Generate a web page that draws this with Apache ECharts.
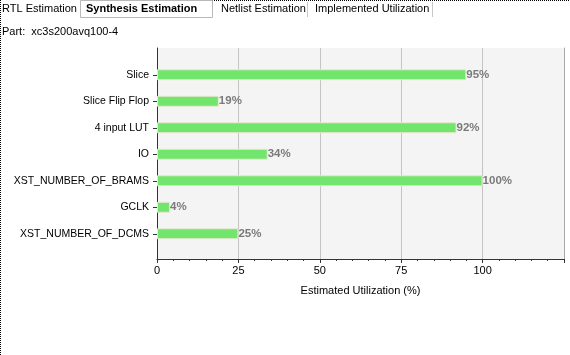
<!DOCTYPE html>
<html><head><meta charset="utf-8">
<script src="https://cdn.jsdelivr.net/npm/echarts@6/dist/echarts.min.js"></script>
<style>html,body{margin:0;padding:0;background:#fff}#c{width:570px;height:355px}</style>
</head><body><div id="c"></div>
<script>
const categories = ['Slice','Slice Flip Flop','4 input LUT','IO','XST_NUMBER_OF_BRAMS','GCLK','XST_NUMBER_OF_DCMS'];
const utilization = [95, 19, 92, 34, 100, 4, 25];
const xTicks = [0, 25, 50, 75, 100, 125];
const tabs = ['RTL Estimation','Synthesis Estimation','Netlist Estimation','Implemented Utilization'];
const partLabel = 'Part:  xc3s200avq100-4';
const axisTitle = 'Estimated Utilization (%)';

const FONT = 'Liberation Sans';
const FS = 11;
const chart = echarts.init(document.getElementById('c'), null, {renderer:'canvas'});
const tabX = [2, 86, 221, 315];
const graphics = [
  {type:'line', shape:{x1:0.5,y1:0,x2:0.5,y2:355}, style:{stroke:'#000',lineWidth:1,lineDash:[1,1]}},
  {type:'line', shape:{x1:212,y1:0.5,x2:570,y2:0.5}, style:{stroke:'#000',lineWidth:1,lineDash:[1,1]}},
  {type:'rect', shape:{x:80.5,y:0.5,width:132,height:17}, style:{fill:'#fff',stroke:'#b8b8b8',lineWidth:1}},
  {type:'line', shape:{x1:307.5,y1:2,x2:307.5,y2:17}, style:{stroke:'#c8c8c8',lineWidth:1}},
  {type:'line', shape:{x1:432.5,y1:2,x2:432.5,y2:17}, style:{stroke:'#c8c8c8',lineWidth:1}},
  {type:'text', x:2, y:32, style:{text:partLabel, fill:'#000', font:FS+'px "'+FONT+'"', textVerticalAlign:'middle'}}
];
tabs.forEach((t,i)=>{
  graphics.push({type:'text', x:tabX[i], y:9, style:{text:t, fill:'#000', font:(i===1?'bold ':'')+FS+'px "'+FONT+'"', textVerticalAlign:'middle'}});
});

chart.setOption({
  animation:false,
  graphic: graphics,
  grid:[
    {left:157, right:6, top:48, bottom:96, show:true, backgroundColor:'#f4f4f4', borderWidth:0, containLabel:false},
    {left:157, right:6, top:61.5, bottom:108, containLabel:false}
  ],
  xAxis:[
    {gridIndex:0, type:'value', min:xTicks[0], max:xTicks[xTicks.length-1], interval:25,
     name:axisTitle, nameLocation:'middle', nameGap:26,
     nameTextStyle:{fontFamily:FONT, fontSize:FS, color:'#000'},
     axisLine:{show:true, lineStyle:{color:'#333', width:1}},
     axisTick:{show:true, length:4, lineStyle:{color:'#333'}},
     minorTick:{show:true, splitNumber:5, length:2, lineStyle:{color:'#333'}},
     axisLabel:{fontFamily:FONT, fontSize:FS, color:'#000', margin:6, showMaxLabel:false},
     splitLine:{show:true, lineStyle:{color:'#c4c4c4', width:1}}},
    {gridIndex:1, type:'value', min:xTicks[0], max:xTicks[xTicks.length-1], show:false}
  ],
  yAxis:[
    {gridIndex:0, type:'value', min:0, max:1, axisLine:{show:true, lineStyle:{color:'#333'}}, axisTick:{show:false}, axisLabel:{show:false}, splitLine:{show:false}},
    {gridIndex:0, type:'value', min:0, max:1, position:'right', axisLine:{show:true, lineStyle:{color:'#a8a8a8'}}, axisTick:{show:false}, axisLabel:{show:false}, splitLine:{show:false}},
    {gridIndex:1, type:'category', data:categories, inverse:true,
     axisLine:{show:false}, axisTick:{show:true, alignWithLabel:true, length:4, lineStyle:{color:'#333'}},
     axisLabel:{fontFamily:FONT, fontSize:10.5, color:'#000', margin:8}}
  ],
  series:[{
    type:'bar', xAxisIndex:1, yAxisIndex:2, data:utilization, barWidth:11,
    itemStyle:{color:'#72e66c', borderColor:'#ebe6d2', borderWidth:1},
    label:{show:true, position:'right', distance:0, formatter:'{c}%', color:'#7a7a7a', fontWeight:'bold', fontFamily:FONT, fontSize:11.5}
  }]
});
</script></body></html>
